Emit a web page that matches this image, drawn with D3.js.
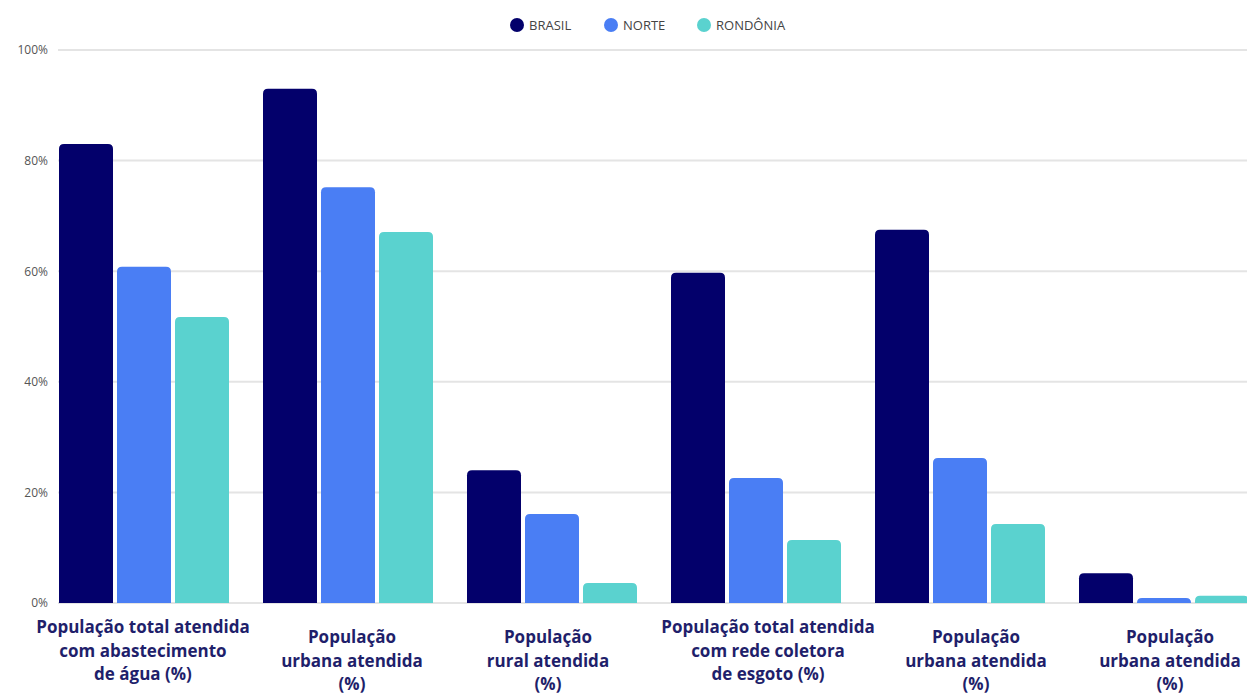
<!DOCTYPE html>
<html>
<head>
<meta charset="utf-8">
<script src="https://cdn.jsdelivr.net/npm/d3@7"></script>
<style>
  html, body { margin: 0; padding: 0; background: #ffffff; }
  svg { display: block; }
</style>
</head>
<body>
<svg id="chart" width="1247" height="695"></svg>
<script>
// Indicadores de atendimento (%)
const categories = [
  ["População total atendida", "com abastecimento", "de água (%)"],
  ["População", "urbana atendida", "(%)"],
  ["População", "rural atendida", "(%)"],
  ["População total atendida", "com rede coletora", "de esgoto (%)"],
  ["População", "urbana atendida", "(%)"],
  ["População", "urbana atendida", "(%)"]
];
const seriesNames = ["BRASIL", "NORTE", "RONDÔNIA"];
const brasil   = [83.0, 93.0, 24.0, 59.7, 67.5, 5.4];
const norte    = [60.8, 75.2, 16.1, 22.6, 26.2, 0.9];
const rondonia = [51.7, 67.1, 3.6, 11.4, 14.3, 1.3];
const yTicks = [0, 20, 40, 60, 80, 100];
const colors = ["#03006b", "#4a7ef4", "#5ad2cf"];

const values = [brasil, norte, rondonia];
const rows = categories.map((c, i) => ({
  idx: i,
  label: c,
  vals: seriesNames.map((s, j) => ({ key: s, value: values[j][i] }))
}));

const svg = d3.select("#chart");
const W = 1247;
const margin = { top: 50, bottom: 92, left: 42 };
const plotBottom = 695 - margin.bottom; // 603
const step = 204;

const x0 = d3.scaleBand()
  .domain(d3.range(categories.length))
  .range([margin.left, margin.left + step * categories.length])
  .paddingInner(34 / step)
  .paddingOuter(17 / step);

const x1 = d3.scaleBand()
  .domain(seriesNames)
  .range([0, x0.bandwidth()])
  .paddingInner(4 / 58);

const y = d3.scaleLinear().domain([0, 100]).range([plotBottom, margin.top]);

// grid lines
const grid = svg.append("g");
grid.selectAll("line")
  .data(yTicks)
  .join("line")
  .attr("x1", 58)
  .attr("x2", W)
  .attr("y1", d => y(d))
  .attr("y2", d => y(d))
  .attr("stroke", "#e4e4e4")
  .attr("stroke-width", 2);

// y axis labels
const yAxis = d3.axisLeft(y).tickValues(yTicks).tickFormat(d => d + "%").tickSize(0).tickPadding(0);
const ya = svg.append("g").attr("transform", "translate(48,0)").call(yAxis);
ya.select(".domain").remove();
ya.selectAll("text")
  .attr("font-family", "'Open Sans', sans-serif")
  .attr("font-size", 12)
  .attr("fill", "#555");

// bars with rounded top corners
function barPath(x, yTop, w, h, r) {
  r = Math.min(r, h, w / 2);
  return `M${x},${yTop + h}V${yTop + r}Q${x},${yTop} ${x + r},${yTop}H${x + w - r}Q${x + w},${yTop} ${x + w},${yTop + r}V${yTop + h}Z`;
}
const color = d3.scaleOrdinal().domain(seriesNames).range(colors);

const groups = svg.append("g").selectAll("g")
  .data(rows)
  .join("g")
  .attr("transform", d => `translate(${x0(d.idx)},0)`);

groups.selectAll("path")
  .data(d => d.vals)
  .join("path")
  .attr("d", d => barPath(x1(d.key), y(d.value), x1.bandwidth(), plotBottom - y(d.value), 5))
  .attr("fill", d => color(d.key));

// category labels (horizontal nudge and first-line position per label)
const labelShift = [-1, 4, -4, 12, 16, 6];
const labelTop = [627, 637, 637, 627, 637, 637];
const labelX = d => x0(d.idx) + x0.bandwidth() / 2 + labelShift[d.idx];
const lbl = svg.append("g").selectAll("text")
  .data(rows)
  .join("text")
  .attr("text-anchor", "middle")
  .attr("font-family", "'Open Sans', sans-serif")
  .attr("font-weight", 700)
  .attr("font-size", 17)
  .attr("fill", "#1f1f6b")
  .attr("x", labelX)
  .attr("y", d => labelTop[d.idx] + 6);
lbl.selectAll("tspan")
  .data(d => d.label.map(t => ({ t, x: labelX(d) })))
  .join("tspan")
  .attr("x", d => d.x)
  .attr("dy", (d, i) => i === 0 ? 0 : 23.5)
  .text(d => d.t);

// legend
const legendX = [517, 611, 704];
const lg = svg.append("g").selectAll("g")
  .data(seriesNames)
  .join("g")
  .attr("transform", (d, i) => `translate(${legendX[i]},25)`);
lg.append("circle").attr("r", 7).attr("fill", d => color(d));
lg.append("text")
  .attr("x", 12)
  .attr("dy", "0.35em")
  .attr("font-family", "'Open Sans', sans-serif")
  .attr("font-size", 13)
  .attr("fill", "#444")
  .text(d => d);
</script>
</body>
</html>
